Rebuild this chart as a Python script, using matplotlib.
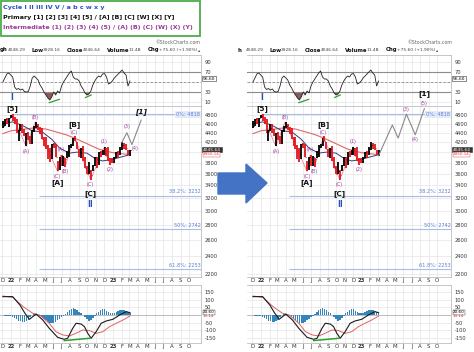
import numpy as np
import pandas as pd
import matplotlib
matplotlib.use("Agg")
import matplotlib.pyplot as plt
import matplotlib.dates as mdates
from matplotlib.patches import Polygon, Rectangle
from matplotlib.ticker import NullLocator

# weekly S&P 500 bars, Dec 2021 - Mar 2023
weeks = pd.date_range("2021-12-03", "2023-03-03", freq="W-FRI")
closes = [4538, 4712, 4621, 4726, 4766,
          4677, 4663, 4398, 4432,
          4500, 4419, 4349, 4385,
          4329, 4204, 4463, 4543,
          4546, 4488, 4393, 4272, 4132,
          4123, 4024, 3901, 4158,
          4109, 3901, 3675, 3912,
          3825, 3899, 3863, 3962, 4130,
          4145, 4280, 4228, 4057,
          3924, 4067, 3873, 3693, 3586,
          3640, 3583, 3753, 3901,
          3771, 3993, 3965, 4026,
          4072, 3934, 3852, 3845, 3840,
          3895, 3999, 3973, 4070,
          4136, 4090, 4079, 3970,
          4046]
highs = [4652, 4713, 4731, 4740, 4808,
         4818, 4749, 4714, 4453,
         4595, 4590, 4489, 4385,
         4416, 4329, 4465, 4546,
         4637, 4593, 4521, 4513, 4308,
         4307, 4140, 4090, 4158,
         4177, 4168, 3838, 3913,
         3950, 3918, 3880, 4013, 4140,
         4168, 4280, 4325, 4204,
         4062, 4077, 4119, 3907, 3736,
         3806, 3671, 3762, 3906,
         3912, 3999, 4028, 4034,
         4101, 4076, 4101, 3877, 3878,
         3906, 4003, 4015, 4095,
         4195, 4176, 4160, 4048,
         4048]
lows = [4495, 4540, 4600, 4532, 4733,
        4662, 4582, 4395, 4222,
        4435, 4402, 4328, 4115,
        4245, 4157, 4162, 4424,
        4507, 4450, 4381, 4267, 4124,
        4062, 3859, 3811, 3876,
        4073, 3900, 3637, 3667,
        3739, 3742, 3722, 3879, 3911,
        4079, 4117, 4218, 4057,
        3907, 3887, 3838, 3694, 3585,
        3584, 3492, 3647, 3734,
        3698, 3751, 3906, 3935,
        3938, 3918, 3827, 3764, 3796,
        3794, 3877, 3886, 3949,
        4037, 4060, 4047, 3943,
        3928]
rsi = [50, 58, 66, 68, 64, 60, 40, 35, 37, 34,
       36, 31, 30, 31, 42, 58, 62, 58, 54, 44,
       38, 30, 24, 18, 14, 20, 30, 24, 32, 28,
       42, 50, 56, 62, 68, 72, 60, 56, 56, 52,
       42, 36, 28, 24, 26, 32, 44, 52, 58, 62,
       60, 66, 67, 60, 46, 48, 52, 58, 62, 66,
       70, 74, 68, 64, 42, 52]
hist = [-3, -4, -5, -6, -8, -10, -18, -28, -36, -42,
        -45, -45, -40, -30, -15, -2, 5, 6, 2, -6,
        -15, -25, -35, -44, -50, -54, -50, -44, -35, -28,
        -15, -4, 8, 22, 34, 42, 44, 40, 30, 20,
        10, 0, -14, -28, -36, -30, -18, -4, 10, 22,
        32, 37, 36, 28, 18, 12, 10, 14, 20, 26,
        30, 33, 32, 26, 18, 10]

macd_dates = ["2021-12-03", "2022-01-07", "2022-02-02", "2022-02-20", "2022-03-08", "2022-04-01",
              "2022-04-25", "2022-05-18", "2022-06-17", "2022-07-11", "2022-07-23", "2022-08-10",
              "2022-08-22", "2022-09-09", "2022-09-21", "2022-10-03", "2022-10-15", "2022-11-02",
              "2022-11-20", "2022-12-08", "2023-01-01", "2023-01-25", "2023-02-18", "2023-03-03"]
macd_vals = [120, 120, 65, 11, -28, 6, -33, -87, -146, -159, -152, -87,
             -54, -59, -76, -120, -152, -109, -54, -39, -28, 0, 22, 15]
signal_dates = ["2021-12-03", "2022-01-08", "2022-02-14", "2022-03-20", "2022-04-13", "2022-05-18",
                "2022-06-11", "2022-07-05", "2022-07-29", "2022-08-16", "2022-09-15", "2022-10-09",
                "2022-11-02", "2022-11-26", "2022-12-20", "2023-01-13", "2023-02-06", "2023-03-03"]
signal_vals = [124, 115, 54, 11, 0, -54, -109, -130, -137, -124, -98, -102,
               -120, -109, -76, -54, -33, -7]

slow_ma_dates = ["2021-12-03", "2021-12-31", "2022-03-18", "2022-05-06", "2022-07-15",
                 "2022-08-19", "2022-10-07", "2022-11-11", "2022-12-30", "2023-03-03"]
slow_ma_vals = [4380, 4440, 4500, 4480, 4360, 4280, 4150, 4060, 3990, 3950]
fast_ma_dates = ["2021-12-03", "2022-01-07", "2022-02-11", "2022-03-18", "2022-04-22",
                 "2022-05-27", "2022-06-24", "2022-07-29", "2022-08-26", "2022-09-30",
                 "2022-10-28", "2022-11-25", "2022-12-30", "2023-01-27", "2023-03-03"]
fast_ma_vals = [4600, 4640, 4560, 4440, 4420, 4260, 4080, 3980, 4000, 3980,
                3880, 3830, 3860, 3900, 3950]

# wave count path and labels
zigzag_dates = ["2022-01-04", "2022-02-24", "2022-03-29", "2022-06-17", "2022-06-28",
                "2022-07-14", "2022-08-16", "2022-10-13", "2022-12-01", "2022-12-22"]
zigzag_vals = [4818, 4115, 4637, 3637, 3945, 3722, 4325, 3492, 4101, 3764]

cycle_labels = [("I", "2022-01-04", 5220), ("II", "2022-10-13", 3100)]
primary_labels = [("[5]", "2022-01-04", 4965), ("[A]", "2022-06-17", 3440),
                  ("[B]", "2022-08-16", 4575), ("[C]", "2022-10-13", 3270)]
inter_labels = [("(A)", "2022-02-24", 4010), ("(B)", "2022-03-29", 4740),
                ("(C)", "2022-06-17", 3555), ("(A)", "2022-06-30", 4045),
                ("(B)", "2022-07-14", 3635), ("(C)", "2022-08-16", 4415),
                ("(C)", "2022-10-13", 3405), ("(1)", "2022-12-01", 4215),
                ("(2)", "2022-12-22", 3665)]

# old projection (left) and new projection (right)
left_proj_dates = ["2023-02-02", "2023-02-20", "2023-03-10", "2023-04-12"]
left_proj_vals = [4195, 4400, 4150, 4680]
left_proj_labels = [("(3)", "2023-02-20", 4530, "inter"), ("(4)", "2023-03-20", 4080, "inter"),
                    ("[1]", "2023-04-12", 4880, "primary")]
right_proj_dates = ["2023-03-03", "2023-04-22", "2023-05-13", "2023-06-12", "2023-07-14", "2023-08-16"]
right_proj_vals = [3930, 4570, 4285, 4820, 4355, 4950]
right_proj_labels = [("(3)", "2023-06-12", 4930, "inter"), ("(4)", "2023-07-14", 4250, "inter"),
                     ("(5)", "2023-08-16", 5090, "inter"), ("[1]", "2023-08-16", 5330, "primary")]

fib_names = ["0%", "38.2%", "50%", "61.8%"]
fib_values = [4818, 3232, 2742, 2253]

W, H = 474, 352
fig = plt.figure(figsize=(W / 100, H / 100), dpi=100)


def rect(x0, y0, x1, y1):
    return [x0 / W, 1 - y1 / H, (x1 - x0) / W, (y1 - y0) / H]


def num(d):
    return mdates.date2num(pd.to_datetime(d))


INTER = "#9b3a9b"
BLUE = "#2b4fbf"
GRID = "#e4e4e4"
month_starts = pd.date_range("2021-12-01", "2023-10-01", freq="MS")
month_labels = [d.strftime("%y") if d.month == 1 else d.strftime("%b")[0] for d in month_starts]
xw = num(weeks)
bar_colors = ["black"] + ["#e3151c" if c < p else "black" for p, c in zip(closes[:-1], closes[1:])]


def style(ax, xlim, labels):
    ax.set_xlim(xlim)
    ax.set_xticks(num(month_starts))
    ax.set_xticklabels(month_labels if labels else [])
    ax.tick_params(axis="x", length=0, labelsize=3.9, pad=0.6, colors="#333333")
    ax.yaxis.tick_right()
    ax.tick_params(axis="y", length=0, labelsize=3.7, pad=2.5, colors="#333333")
    ax.yaxis.set_minor_locator(NullLocator())
    ax.grid(True, color=GRID, lw=0.5)
    ax.set_axisbelow(True)
    for s in ax.spines.values():
        s.set_color("#b0b0b0")
        s.set_linewidth(0.5)
    ax.spines["left"].set_visible(False)
    if labels:
        for t in ax.get_xticklabels():
            if t.get_text().isdigit():
                t.set_fontweight("bold")


def wave_text(ax, text, d, p, kind, italic=False):
    if kind == "cycle":
        ax.text(num(d), p, text, color=BLUE, fontsize=5.5, fontweight="bold",
                ha="center", va="center", clip_on=False, zorder=6)
    elif kind == "primary":
        ax.text(num(d), p, text, color="#111111", fontsize=5.3, fontweight="bold",
                style="italic" if italic else "normal",
                ha="center", va="center", clip_on=False, zorder=6)
    else:
        ax.text(num(d), p, text, color=INTER, fontsize=3.5,
                ha="center", va="center", clip_on=False, zorder=6)


def draw_panel(x0, x1, jan1_px, px_per_month, proj_dates, proj_vals, proj_labels, head_dx, first_key,
               italic_one):
    px_per_day = px_per_month / 30.44
    t0 = num("2022-01-01")
    xlim = (t0 - (jan1_px - x0) / px_per_day, t0 + (x1 - jan1_px) / px_per_day)

    ax_r = fig.add_axes(rect(x0, 55, x1, 106))
    ax_p = fig.add_axes(rect(x0, 106, x1, 277))
    ax_m = fig.add_axes(rect(x0, 285, x1, 343))

    # RSI
    style(ax_r, xlim, False)
    ax_r.set_ylim(2, 104)
    ax_r.set_yticks([10, 30, 50, 70, 90])
    ax_r.set_yticklabels(["10", "30", "", "70", "90"])
    r = np.array(rsi, dtype=float)
    ax_r.fill_between(xw, r, 30, where=r < 30, interpolate=True, color="#8e5858", lw=0)
    ax_r.axhline(70, color="#8c8c8c", lw=0.8)
    ax_r.axhline(30, color="#8c8c8c", lw=0.8)
    ax_r.axhline(50, color="#8c8c8c", lw=0.6, ls=(0, (3, 2)))
    ax_r.plot(xw, r, color="#222222", lw=0.6)
    ax_r.plot(num(["2022-05-18", "2022-06-23"]), [8.7, 15.3], color="#2e9e2e", lw=0.9)
    ax_r.plot(num(["2022-09-25", "2022-10-15"]), [19, 24], color="#2e9e2e", lw=0.9)
    ax_r.text(1.01, 56.6, "56.60", transform=ax_r.get_yaxis_transform(), fontsize=3.2,
              va="center", ha="left", clip_on=False,
              bbox=dict(boxstyle="square,pad=0.15", fc="white", ec="#333333", lw=0.4))

    # price
    style(ax_p, xlim, True)
    ax_p.set_yscale("log")
    ax_p.set_ylim(2167, 5016)
    ticks = list(range(2200, 4801, 200))
    ax_p.set_yticks(ticks)
    ax_p.set_yticklabels(["" if t == 4000 else str(t) for t in ticks])
    ax_p.yaxis.set_minor_locator(NullLocator())

    for name, val in zip(fib_names, fib_values):
        start = num("2022-01-04") if name == "0%" else num("2022-04-12")
        ax_p.hlines(val, start, xlim[1], color="#a8bce6", lw=0.8, zorder=1)
        txt = "%s: %d" % (name, val)
        if name == "0%":
            ax_p.text(xlim[1] - 2, val, txt, color="#5a7fd6", fontsize=3.6, ha="right", va="center",
                      bbox=dict(boxstyle="square,pad=0.2", fc="#e3eaf8", ec="none"), zorder=2)
        else:
            ax_p.text(xlim[1] - 2, val * 1.006, txt, color="#5a7fd6", fontsize=3.6,
                      ha="right", va="bottom", zorder=2)

    ax_p.plot(num(slow_ma_dates), slow_ma_vals, color="#e06868", lw=0.8, zorder=2)
    ax_p.plot(num(fast_ma_dates), fast_ma_vals, color="#3a3a78", lw=0.7, zorder=2)
    ax_p.plot(num(zigzag_dates), zigzag_vals, color="#e58aa3", lw=0.6, zorder=2)
    ax_p.vlines(xw, lows, highs, colors=bar_colors, lw=1.3, zorder=3)
    ax_p.hlines(closes, xw, xw + 3, colors=bar_colors, lw=0.7, zorder=3)
    ax_p.plot(num(proj_dates), proj_vals, color="#8a8a8a", lw=0.8, zorder=3)

    for text, d, p in cycle_labels:
        wave_text(ax_p, text, d, p, "cycle")
    for text, d, p in primary_labels:
        wave_text(ax_p, text, d, p, "primary")
    for text, d, p in inter_labels:
        wave_text(ax_p, text, d, p, "inter")
    for text, d, p, kind in proj_labels:
        wave_text(ax_p, text, d, p, kind, italic=italic_one)

    ax_p.text(1.01, 4046, "4045.64", transform=ax_p.get_yaxis_transform(), fontsize=3.2,
              color="white", va="center", ha="left", clip_on=False,
              bbox=dict(boxstyle="square,pad=0.15", fc="#333333", ec="#333333", lw=0.4))
    ax_p.text(1.01, 3960, "3950.14", transform=ax_p.get_yaxis_transform(), fontsize=3.0,
              color="#d83a3a", va="center", ha="left", clip_on=False,
              bbox=dict(boxstyle="square,pad=0.1", fc="white", ec="#d83a3a", lw=0.3))

    # MACD
    style(ax_m, xlim, True)
    ax_m.set_ylim(-183, 196)
    ax_m.set_yticks([-150, -100, -50, 0, 50, 100, 150])
    ax_m.set_yticklabels(["-150", "-100", "-50", "", "50", "100", "150"])
    ax_m.axhline(0, color="#9a9a9a", lw=0.4)
    ax_m.bar(xw, hist, width=5.5, color="#3585bd", lw=0, zorder=2)
    ax_m.plot(num(signal_dates), signal_vals, color="#e26262", lw=0.7, zorder=3)
    ax_m.plot(num(macd_dates), macd_vals, color="#1a1a1a", lw=0.8, zorder=4)
    ax_m.plot(num(["2022-07-11", "2022-10-11"]), [-167, -152], color="#2e9e2e", lw=1.1, zorder=5)
    ax_m.text(1.01, 18, "20.60", transform=ax_m.get_yaxis_transform(), fontsize=3.0,
              va="center", ha="left", clip_on=False,
              bbox=dict(boxstyle="square,pad=0.1", fc="white", ec="#333333", lw=0.3))
    ax_m.text(1.01, -4, "13.14", transform=ax_m.get_yaxis_transform(), fontsize=3.0,
              color="#d83a3a", va="center", ha="left", clip_on=False)

    # header line above the RSI panel (the left part is cropped in the screenshot)
    items = [(first_key, True, 0), ("4048.29", False, 8), ("Low", True, 32), ("3928.16", False, 43),
             ("Close", True, 67), ("4046.64", False, 83), ("Volume", True, 107), ("11.4B", False, 129),
             ("Chg", True, 148), ("+75.60 (+1.90%)", False, 159), ("\u25b4", False, 198)]
    for text, bold, xpos in items:
        fig.text((xpos + head_dx) / W, 1 - 50 / H, text, fontsize=3.9 if bold else 3.2,
                 fontweight="bold" if bold else "normal",
                 color="#111111" if bold else "#444444", va="center", ha="left")
    fig.text((x1 + (1 if head_dx else -1)) / W, 1 - 43 / H, "\u00a9StockCharts.com",
             fontsize=3.4, color="#666666", ha="right", va="center")


draw_panel(0, 201, 11, 8.5, left_proj_dates, left_proj_vals, left_proj_labels, 0, "gh", True)
draw_panel(247, 451, 261, 8.4, right_proj_dates, right_proj_vals, right_proj_labels, 238, "h", False)

# legend box
fig.patches.append(Rectangle((0.6 / W, 1 - 36 / H), 199 / W, 35.2 / H, transform=fig.transFigure,
                             fill=False, edgecolor="#4cad4c", lw=1.3, zorder=5))
fig.text(3 / W, 1 - 7.5 / H, "Cycle I II III IV V / a b c w x y", color=BLUE, fontsize=4.55,
         fontweight="bold", va="center")
fig.text(3 / W, 1 - 17.5 / H, "Primary [1] [2] [3] [4] [5] / [A] [B] [C] [W] [X] [Y]", color="#111111",
         fontsize=4.55, fontweight="bold", va="center")
fig.text(3 / W, 1 - 27.5 / H, "Intermediate (1) (2) (3) (4) (5) / (A) (B) (C) (W) (X) (Y)", color=INTER,
         fontsize=4.55, fontweight="bold", va="center")

# blue arrow between the two charts
arrow_px = [(218, 173), (246, 173), (246, 164), (267, 183), (246, 203), (246, 194), (218, 194)]
fig.patches.append(Polygon([(x / W, 1 - y / H) for x, y in arrow_px], closed=True,
                           transform=fig.transFigure, facecolor="#4472c4", edgecolor="#4472c4",
                           zorder=10))

fig.savefig("out.png", dpi=100)
